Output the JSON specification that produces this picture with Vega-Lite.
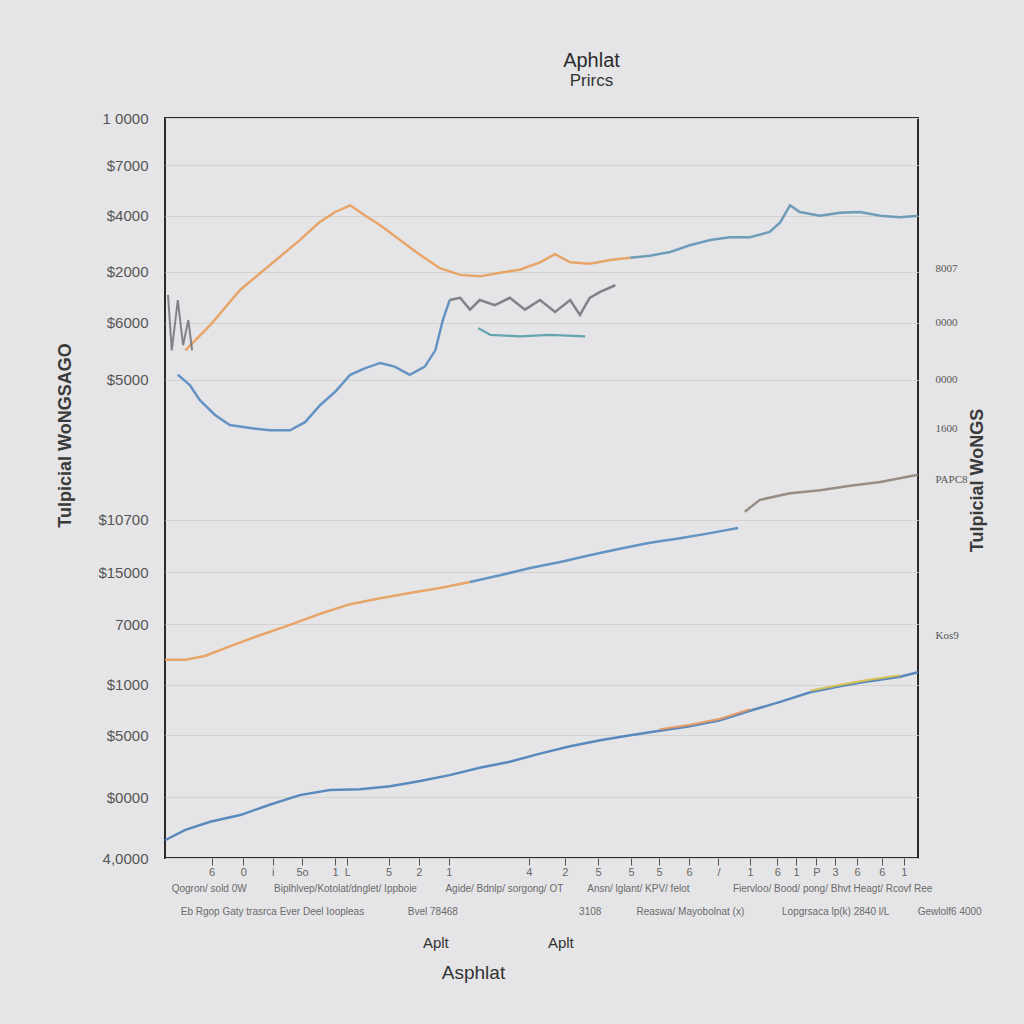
{
  "$schema": "https://vega.github.io/schema/vega-lite/v6.json",
  "width": 753,
  "height": 740,
  "autosize": {"type": "none"},
  "padding": {"left": 165, "top": 118, "right": 106, "bottom": 166},
  "background": "#e5e5e7",
  "config": {
    "view": {"stroke": "#2a2a2a", "strokeWidth": 2},
    "font": "Liberation Sans",
    "axis": {"labelFont": "Liberation Sans", "titleFont": "Liberation Sans", "labelColor": "#555", "titleColor": "#333", "labelOverlap": false, "labelBound": false, "labelFlush": false, "labelLimit": 0}
  },
  "title": {
    "text": "Aphlat",
    "subtitle": "Prircs",
    "fontSize": 20,
    "subtitleFontSize": 17,
    "fontWeight": "normal",
    "color": "#2c2c2c",
    "subtitleColor": "#333",
    "anchor": "middle",
    "dx": 50,
    "offset": 22,
    "subtitlePadding": 2
  },
  "datasets": {
    "lines": [
      {"s": "orangeUp", "x": 2.7, "y": 68.6}, {"s": "orangeUp", "x": 6.0, "y": 72.0}, {"s": "orangeUp", "x": 10.0, "y": 76.8}, {"s": "orangeUp", "x": 13.9, "y": 80.1}, {"s": "orangeUp", "x": 17.9, "y": 83.5}, {"s": "orangeUp", "x": 20.5, "y": 85.9}, {"s": "orangeUp", "x": 22.6, "y": 87.3}, {"s": "orangeUp", "x": 24.6, "y": 88.2}, {"s": "orangeUp", "x": 26.6, "y": 86.8}, {"s": "orangeUp", "x": 28.6, "y": 85.5}, {"s": "orangeUp", "x": 31.2, "y": 83.5}, {"s": "orangeUp", "x": 33.9, "y": 81.5}, {"s": "orangeUp", "x": 36.5, "y": 79.7}, {"s": "orangeUp", "x": 39.2, "y": 78.8}, {"s": "orangeUp", "x": 41.8, "y": 78.6}, {"s": "orangeUp", "x": 44.5, "y": 79.1}, {"s": "orangeUp", "x": 47.1, "y": 79.5}, {"s": "orangeUp", "x": 49.8, "y": 80.5}, {"s": "orangeUp", "x": 51.8, "y": 81.6}, {"s": "orangeUp", "x": 53.8, "y": 80.5}, {"s": "orangeUp", "x": 56.4, "y": 80.3}, {"s": "orangeUp", "x": 59.1, "y": 80.8}, {"s": "orangeUp", "x": 61.8, "y": 81.1},
      {"s": "blueUp", "x": 61.8, "y": 81.1}, {"s": "blueUp", "x": 64.4, "y": 81.4}, {"s": "blueUp", "x": 67.1, "y": 81.9}, {"s": "blueUp", "x": 69.7, "y": 82.8}, {"s": "blueUp", "x": 72.4, "y": 83.5}, {"s": "blueUp", "x": 75.0, "y": 83.9}, {"s": "blueUp", "x": 77.7, "y": 83.9}, {"s": "blueUp", "x": 80.3, "y": 84.6}, {"s": "blueUp", "x": 81.7, "y": 85.9}, {"s": "blueUp", "x": 83.0, "y": 88.2}, {"s": "blueUp", "x": 84.3, "y": 87.3}, {"s": "blueUp", "x": 87.0, "y": 86.8}, {"s": "blueUp", "x": 89.6, "y": 87.2}, {"s": "blueUp", "x": 92.3, "y": 87.3}, {"s": "blueUp", "x": 95.0, "y": 86.8}, {"s": "blueUp", "x": 97.6, "y": 86.6}, {"s": "blueUp", "x": 100, "y": 86.8},
      {"s": "blueDip", "x": 1.7, "y": 65.3}, {"s": "blueDip", "x": 3.3, "y": 63.9}, {"s": "blueDip", "x": 4.6, "y": 61.9}, {"s": "blueDip", "x": 6.6, "y": 59.9}, {"s": "blueDip", "x": 8.6, "y": 58.5}, {"s": "blueDip", "x": 11.3, "y": 58.1}, {"s": "blueDip", "x": 13.9, "y": 57.8}, {"s": "blueDip", "x": 16.6, "y": 57.8}, {"s": "blueDip", "x": 18.6, "y": 58.9}, {"s": "blueDip", "x": 20.6, "y": 61.2}, {"s": "blueDip", "x": 22.6, "y": 63.0}, {"s": "blueDip", "x": 24.6, "y": 65.3}, {"s": "blueDip", "x": 26.6, "y": 66.2}, {"s": "blueDip", "x": 28.6, "y": 66.9}, {"s": "blueDip", "x": 30.5, "y": 66.4}, {"s": "blueDip", "x": 32.5, "y": 65.3}, {"s": "blueDip", "x": 34.5, "y": 66.4}, {"s": "blueDip", "x": 35.9, "y": 68.6}, {"s": "blueDip", "x": 36.9, "y": 72.7}, {"s": "blueDip", "x": 37.8, "y": 75.4},
      {"s": "greyJag", "x": 37.8, "y": 75.4}, {"s": "greyJag", "x": 39.2, "y": 75.7}, {"s": "greyJag", "x": 40.5, "y": 74.1}, {"s": "greyJag", "x": 41.8, "y": 75.4}, {"s": "greyJag", "x": 43.8, "y": 74.7}, {"s": "greyJag", "x": 45.8, "y": 75.7}, {"s": "greyJag", "x": 47.8, "y": 74.1}, {"s": "greyJag", "x": 49.8, "y": 75.4}, {"s": "greyJag", "x": 51.8, "y": 73.8}, {"s": "greyJag", "x": 53.8, "y": 75.4}, {"s": "greyJag", "x": 55.1, "y": 73.4}, {"s": "greyJag", "x": 56.4, "y": 75.7}, {"s": "greyJag", "x": 57.8, "y": 76.5}, {"s": "greyJag", "x": 59.8, "y": 77.4},
      {"s": "teal", "x": 41.6, "y": 71.6}, {"s": "teal", "x": 43.2, "y": 70.7}, {"s": "teal", "x": 47.1, "y": 70.5}, {"s": "teal", "x": 51.1, "y": 70.7}, {"s": "teal", "x": 55.8, "y": 70.5},
      {"s": "greyLeft", "x": 0.4, "y": 76.1}, {"s": "greyLeft", "x": 0.9, "y": 68.6}, {"s": "greyLeft", "x": 1.7, "y": 75.4}, {"s": "greyLeft", "x": 2.4, "y": 69.3}, {"s": "greyLeft", "x": 3.1, "y": 72.7}, {"s": "greyLeft", "x": 3.6, "y": 68.6},
      {"s": "midOrange", "x": 0, "y": 26.8}, {"s": "midOrange", "x": 2.7, "y": 26.8}, {"s": "midOrange", "x": 5.3, "y": 27.3}, {"s": "midOrange", "x": 8.6, "y": 28.6}, {"s": "midOrange", "x": 12.6, "y": 30.1}, {"s": "midOrange", "x": 16.6, "y": 31.5}, {"s": "midOrange", "x": 20.6, "y": 33.0}, {"s": "midOrange", "x": 24.6, "y": 34.3}, {"s": "midOrange", "x": 28.6, "y": 35.1}, {"s": "midOrange", "x": 32.5, "y": 35.8}, {"s": "midOrange", "x": 36.5, "y": 36.5}, {"s": "midOrange", "x": 40.5, "y": 37.3},
      {"s": "midBlue", "x": 40.5, "y": 37.3}, {"s": "midBlue", "x": 44.5, "y": 38.2}, {"s": "midBlue", "x": 48.5, "y": 39.2}, {"s": "midBlue", "x": 52.5, "y": 40.0}, {"s": "midBlue", "x": 56.4, "y": 40.9}, {"s": "midBlue", "x": 60.4, "y": 41.8}, {"s": "midBlue", "x": 64.4, "y": 42.6}, {"s": "midBlue", "x": 68.4, "y": 43.2}, {"s": "midBlue", "x": 72.4, "y": 43.9}, {"s": "midBlue", "x": 76.1, "y": 44.6},
      {"s": "midGrey", "x": 77.0, "y": 46.8}, {"s": "midGrey", "x": 79.0, "y": 48.4}, {"s": "midGrey", "x": 83.0, "y": 49.3}, {"s": "midGrey", "x": 87.0, "y": 49.7}, {"s": "midGrey", "x": 91.0, "y": 50.3}, {"s": "midGrey", "x": 95.0, "y": 50.8}, {"s": "midGrey", "x": 100, "y": 51.8},
      {"s": "low", "x": 0, "y": 2.4}, {"s": "low", "x": 2.7, "y": 3.8}, {"s": "low", "x": 6.0, "y": 4.9}, {"s": "low", "x": 10.0, "y": 5.8}, {"s": "low", "x": 13.9, "y": 7.2}, {"s": "low", "x": 17.9, "y": 8.5}, {"s": "low", "x": 21.9, "y": 9.2}, {"s": "low", "x": 25.9, "y": 9.3}, {"s": "low", "x": 29.9, "y": 9.7}, {"s": "low", "x": 33.9, "y": 10.4}, {"s": "low", "x": 37.8, "y": 11.2}, {"s": "low", "x": 41.8, "y": 12.2}, {"s": "low", "x": 45.8, "y": 13.0}, {"s": "low", "x": 49.8, "y": 14.1}, {"s": "low", "x": 53.8, "y": 15.1}, {"s": "low", "x": 57.8, "y": 15.9}, {"s": "low", "x": 61.8, "y": 16.6}, {"s": "low", "x": 65.7, "y": 17.2}, {"s": "low", "x": 69.7, "y": 17.8}, {"s": "low", "x": 73.7, "y": 18.6}, {"s": "low", "x": 77.7, "y": 19.9}, {"s": "low", "x": 81.7, "y": 21.1}, {"s": "low", "x": 85.7, "y": 22.4}, {"s": "low", "x": 89.6, "y": 23.2}, {"s": "low", "x": 93.6, "y": 23.9}, {"s": "low", "x": 97.6, "y": 24.5}, {"s": "low", "x": 100, "y": 25.1},
      {"s": "lowOrange", "x": 65.7, "y": 17.4}, {"s": "lowOrange", "x": 69.7, "y": 18.0}, {"s": "lowOrange", "x": 73.7, "y": 18.8}, {"s": "lowOrange", "x": 77.7, "y": 20.1},
      {"s": "lowYellow", "x": 85.7, "y": 22.6}, {"s": "lowYellow", "x": 89.6, "y": 23.4}, {"s": "lowYellow", "x": 93.6, "y": 24.1}, {"s": "lowYellow", "x": 97.6, "y": 24.7}
    ]
  },
  "data": {"name": "lines"},
  "resolve": {"axis": {"x": "independent", "y": "independent"}},
  "layer": [
    {
      "transform": [{"filter": "indexof(['low','greyLeft','teal','lowOrange','lowYellow'], datum.s) < 0"}],
      "mark": {"type": "line", "strokeWidth": 2.5, "opacity": 0.85},
      "encoding": {
        "x": {"field": "x", "type": "quantitative", "scale": {"domain": [0, 100], "nice": false, "zero": false},
          "axis": {"orient": "bottom", "values": [6.2, 10.4, 14.3, 18.2, 22.6, 24.2, 29.7, 33.7, 37.7, 48.3, 53.1, 57.5, 61.9, 65.6, 69.6, 73.5, 77.7, 81.3, 83.8, 86.5, 89.0, 91.9, 95.2, 98.1],
            "labelExpr": "['6','0','i','5o','1','L','5','2','1','4','2','5','5','5','6','/','1','6','1','P','3','6','6','1'][indexof([6.2,10.4,14.3,18.2,22.6,24.2,29.7,33.7,37.7,48.3,53.1,57.5,61.9,65.6,69.6,73.5,77.7,81.3,83.8,86.5,89.0,91.9,95.2,98.1], datum.value)]",
            "labelFontSize": 11, "labelColor": "#666", "tickSize": 7, "tickColor": "#555", "domain": false, "grid": false, "labelPadding": 1,
            "title": "Asphlat", "titleFontSize": 19, "titleFontWeight": "normal", "titleColor": "#333", "titleX": 308, "titleY": 114, "titleBaseline": "middle"}},
        "y": {"field": "y", "type": "quantitative", "scale": {"domain": [0, 100], "nice": false, "zero": false},
          "axis": {"orient": "left", "values": [100, 93.6, 86.8, 79.2, 72.3, 64.6, 45.7, 38.6, 31.6, 23.4, 16.6, 8.2, 0],
            "labelExpr": "['1 0000','$7000','$4000','$2000','$6000','$5000','$10700','$15000','7000','$1000','$5000','$0000','4,0000'][indexof([100,93.6,86.8,79.2,72.3,64.6,45.7,38.6,31.6,23.4,16.6,8.2,0], datum.value)]",
            "labelFontSize": 15, "labelColor": "#555", "ticks": false, "domain": false, "labelPadding": 17,
            "grid": true, "gridColor": "#d3d3d0", "gridWidth": 1,
            "title": "Tulpicial WoNGSAGO", "titleFontSize": 18, "titleFontWeight": "bold", "titleColor": "#3a3a3a", "titleAngle": 270, "titleX": -100, "titleY": 317, "titleBaseline": "middle", "titleAlign": "center"}},
        "color": {"field": "s", "type": "nominal", "legend": null,
          "scale": {"domain": ["orangeUp", "blueUp", "blueDip", "greyJag", "teal", "greyLeft", "midOrange", "midBlue", "midGrey", "low", "lowOrange", "lowYellow"],
            "range": ["#e99a52", "#5a8fb0", "#4d85bd", "#707078", "#4f9aa5", "#6a6a72", "#e99a52", "#4d85bd", "#8a7e72", "#4a80b8", "#e8955a", "#d8c04a"]}}
      }
    },
    {
      "transform": [{"filter": "datum.s == 'low'"}],
      "mark": {"type": "line", "strokeWidth": 2.5, "opacity": 0.9},
      "encoding": {
        "x": {"field": "x", "type": "quantitative", "scale": {"domain": [0, 100], "nice": false, "zero": false},
          "axis": {"orient": "bottom", "values": [5.8, 23.9, 45.0, 62.8, 88.6],
            "labelExpr": "['Qogron/ sold 0W','Biplhlvep/Kotolat/dnglet/ Ippboie','Agide/ Bdnlp/ sorgong/ OT','Ansn/ lglant/ KPV/ felot','Fiervloo/ Bood/ pong/ Bhvt Heagt/ Rcovf Ree'][indexof([5.8,23.9,45.0,62.8,88.6], datum.value)]",
            "labelFontSize": 10, "labelColor": "#6a6a6a", "ticks": false, "domain": false, "grid": false, "offset": 25, "labelPadding": 0, "title": null}},
        "y": {"field": "y", "type": "quantitative", "scale": {"domain": [0, 100], "nice": false, "zero": false},
          "axis": {"orient": "right", "values": [79.7, 72.3, 64.6, 58.1, 51.1, 30.1],
            "labelExpr": "['8007','0000','0000','1600','PAPC8','Kos9'][indexof([79.7,72.3,64.6,58.1,51.1,30.1], datum.value)]",
            "labelFontSize": 11, "labelColor": "#555", "labelFont": "Liberation Serif", "ticks": false, "domain": false, "grid": false, "labelPadding": 17,
            "title": "Tulpicial WoNGS", "titleFontSize": 18, "titleFontWeight": "bold", "titleColor": "#3a3a3a", "titleAngle": 270, "titleX": 59, "titleY": 362, "titleBaseline": "middle", "titleAlign": "center"}},
        "color": {"field": "s", "type": "nominal", "legend": null,
          "scale": {"domain": ["orangeUp", "blueUp", "blueDip", "greyJag", "teal", "greyLeft", "midOrange", "midBlue", "midGrey", "low", "lowOrange", "lowYellow"],
            "range": ["#e99a52", "#5a8fb0", "#4d85bd", "#707078", "#4f9aa5", "#6a6a72", "#e99a52", "#4d85bd", "#8a7e72", "#4a80b8", "#e8955a", "#d8c04a"]}}
      }
    },
    {
      "transform": [{"filter": "datum.s == 'greyLeft'"}],
      "mark": {"type": "line", "strokeWidth": 2, "opacity": 0.8},
      "encoding": {
        "x": {"field": "x", "type": "quantitative", "scale": {"domain": [0, 100], "nice": false, "zero": false},
          "axis": {"orient": "bottom", "values": [14.2, 35.5, 56.4, 69.7, 89.0, 99.9],
            "labelExpr": "['Eb Rgop Gaty trasrca Ever Deel Ioopleas','Bvel  78468','3108','Reaswa/ Mayobolnat (x)','Lopgrsaca lp(k)  2840 l/L','Gewlolf6  4000'][indexof([14.2,35.5,56.4,69.7,89.0,99.9], datum.value)]",
            "labelAlign": {"condition": {"test": "datum.value > 99", "value": "left"}, "value": "center"},
            "labelFontSize": 10, "labelColor": "#6a6a6a", "ticks": false, "domain": false, "grid": false, "offset": 48, "labelPadding": 0, "title": null}},
        "y": {"field": "y", "type": "quantitative", "scale": {"domain": [0, 100], "nice": false, "zero": false}, "axis": null},
        "color": {"field": "s", "type": "nominal", "legend": null,
          "scale": {"domain": ["orangeUp", "blueUp", "blueDip", "greyJag", "teal", "greyLeft", "midOrange", "midBlue", "midGrey", "low", "lowOrange", "lowYellow"],
            "range": ["#e99a52", "#5a8fb0", "#4d85bd", "#707078", "#4f9aa5", "#6a6a72", "#e99a52", "#4d85bd", "#8a7e72", "#4a80b8", "#e8955a", "#d8c04a"]}}
      }
    },
    {
      "transform": [{"filter": "indexof(['teal','lowOrange','lowYellow'], datum.s) >= 0"}],
      "mark": {"type": "line", "strokeWidth": 2.2, "opacity": 0.85},
      "encoding": {
        "x": {"field": "x", "type": "quantitative", "scale": {"domain": [0, 100], "nice": false, "zero": false},
          "axis": {"orient": "bottom", "values": [35.9, 52.5],
            "labelExpr": "'Aplt'",
            "labelFontSize": 15, "labelColor": "#333", "ticks": false, "domain": false, "grid": false, "offset": 77, "labelPadding": 0, "title": null}},
        "y": {"field": "y", "type": "quantitative", "scale": {"domain": [0, 100], "nice": false, "zero": false}, "axis": null},
        "color": {"field": "s", "type": "nominal", "legend": null,
          "scale": {"domain": ["orangeUp", "blueUp", "blueDip", "greyJag", "teal", "greyLeft", "midOrange", "midBlue", "midGrey", "low", "lowOrange", "lowYellow"],
            "range": ["#e99a52", "#5a8fb0", "#4d85bd", "#707078", "#4f9aa5", "#6a6a72", "#e99a52", "#4d85bd", "#8a7e72", "#4a80b8", "#e8955a", "#d8c04a"]}}
      }
    }
  ]
}
